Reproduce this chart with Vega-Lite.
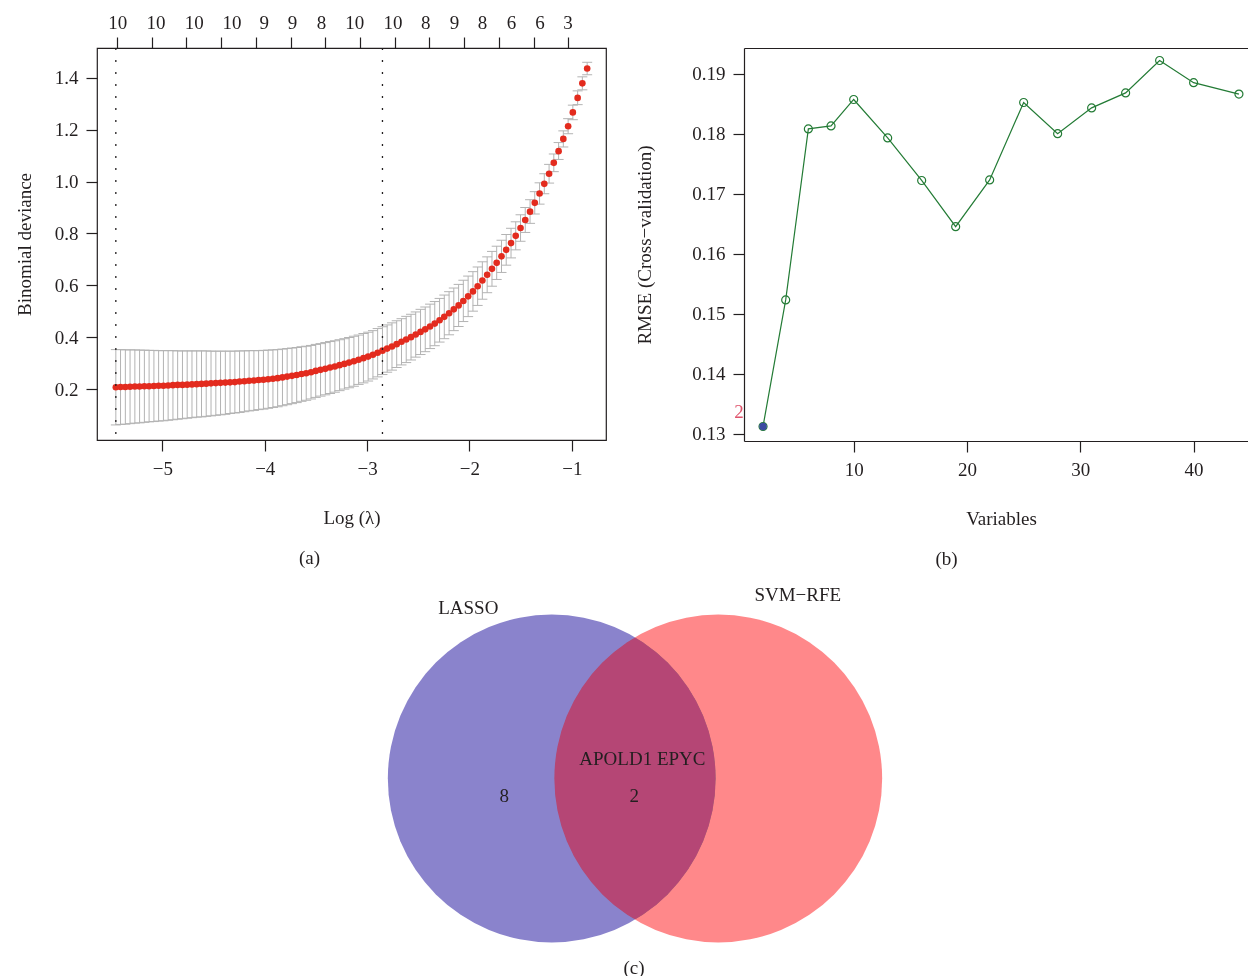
{
  "$schema": "https://vega.github.io/schema/vega-lite/v6.json",
  "background": "white",
  "padding": {"left": 14, "top": 12, "right": 0, "bottom": 0},
  "config": {
    "font": "Liberation Serif",
    "view": {"stroke": "#231F20", "strokeWidth": 1.2},
    "axis": {"grid": false, "domainColor": "#231F20", "domainWidth": 1.2, "tickColor": "#231F20", "tickWidth": 1.2, "tickSize": 11, "labelFont": "Liberation Serif", "labelFontSize": 19, "labelColor": "#231F20", "labelPadding": 8, "labelFlush": false, "labelOverlap": false, "labelBound": false, "titleFont": "Liberation Serif", "titleFontSize": 19, "titleFontWeight": "normal", "titleColor": "#231F20"},
    "title": {"font": "Liberation Serif", "fontSize": 19, "fontWeight": "normal", "color": "#231F20"}
  },
  "datasets": {
    "cvlasso": [
      {"loglambda": -0.850, "deviance": 1.435, "lower": 1.411, "upper": 1.459},
      {"loglambda": -0.897, "deviance": 1.378, "lower": 1.353, "upper": 1.403},
      {"loglambda": -0.943, "deviance": 1.322, "lower": 1.296, "upper": 1.349},
      {"loglambda": -0.990, "deviance": 1.266, "lower": 1.238, "upper": 1.294},
      {"loglambda": -1.036, "deviance": 1.213, "lower": 1.184, "upper": 1.242},
      {"loglambda": -1.083, "deviance": 1.164, "lower": 1.133, "upper": 1.195},
      {"loglambda": -1.129, "deviance": 1.117, "lower": 1.085, "upper": 1.150},
      {"loglambda": -1.176, "deviance": 1.072, "lower": 1.038, "upper": 1.106},
      {"loglambda": -1.222, "deviance": 1.030, "lower": 0.994, "upper": 1.066},
      {"loglambda": -1.269, "deviance": 0.991, "lower": 0.953, "upper": 1.030},
      {"loglambda": -1.315, "deviance": 0.954, "lower": 0.913, "upper": 0.995},
      {"loglambda": -1.362, "deviance": 0.918, "lower": 0.875, "upper": 0.961},
      {"loglambda": -1.408, "deviance": 0.884, "lower": 0.839, "upper": 0.930},
      {"loglambda": -1.455, "deviance": 0.852, "lower": 0.804, "upper": 0.900},
      {"loglambda": -1.501, "deviance": 0.821, "lower": 0.770, "upper": 0.872},
      {"loglambda": -1.548, "deviance": 0.791, "lower": 0.737, "upper": 0.845},
      {"loglambda": -1.594, "deviance": 0.763, "lower": 0.706, "upper": 0.820},
      {"loglambda": -1.641, "deviance": 0.737, "lower": 0.678, "upper": 0.796},
      {"loglambda": -1.687, "deviance": 0.712, "lower": 0.650, "upper": 0.774},
      {"loglambda": -1.734, "deviance": 0.687, "lower": 0.623, "upper": 0.751},
      {"loglambda": -1.780, "deviance": 0.664, "lower": 0.597, "upper": 0.731},
      {"loglambda": -1.827, "deviance": 0.641, "lower": 0.572, "upper": 0.710},
      {"loglambda": -1.874, "deviance": 0.619, "lower": 0.547, "upper": 0.691},
      {"loglambda": -1.920, "deviance": 0.597, "lower": 0.523, "upper": 0.671},
      {"loglambda": -1.966, "deviance": 0.577, "lower": 0.501, "upper": 0.653},
      {"loglambda": -2.013, "deviance": 0.558, "lower": 0.480, "upper": 0.636},
      {"loglambda": -2.060, "deviance": 0.540, "lower": 0.461, "upper": 0.620},
      {"loglambda": -2.106, "deviance": 0.523, "lower": 0.442, "upper": 0.604},
      {"loglambda": -2.153, "deviance": 0.508, "lower": 0.426, "upper": 0.590},
      {"loglambda": -2.199, "deviance": 0.493, "lower": 0.410, "upper": 0.576},
      {"loglambda": -2.246, "deviance": 0.479, "lower": 0.395, "upper": 0.563},
      {"loglambda": -2.292, "deviance": 0.466, "lower": 0.382, "upper": 0.550},
      {"loglambda": -2.339, "deviance": 0.453, "lower": 0.368, "upper": 0.538},
      {"loglambda": -2.385, "deviance": 0.442, "lower": 0.357, "upper": 0.528},
      {"loglambda": -2.432, "deviance": 0.431, "lower": 0.345, "upper": 0.517},
      {"loglambda": -2.478, "deviance": 0.421, "lower": 0.334, "upper": 0.508},
      {"loglambda": -2.525, "deviance": 0.411, "lower": 0.324, "upper": 0.498},
      {"loglambda": -2.571, "deviance": 0.401, "lower": 0.313, "upper": 0.489},
      {"loglambda": -2.618, "deviance": 0.392, "lower": 0.303, "upper": 0.481},
      {"loglambda": -2.664, "deviance": 0.383, "lower": 0.294, "upper": 0.472},
      {"loglambda": -2.711, "deviance": 0.374, "lower": 0.284, "upper": 0.464},
      {"loglambda": -2.757, "deviance": 0.365, "lower": 0.274, "upper": 0.456},
      {"loglambda": -2.804, "deviance": 0.357, "lower": 0.266, "upper": 0.448},
      {"loglambda": -2.850, "deviance": 0.349, "lower": 0.257, "upper": 0.441},
      {"loglambda": -2.897, "deviance": 0.341, "lower": 0.248, "upper": 0.434},
      {"loglambda": -2.943, "deviance": 0.333, "lower": 0.240, "upper": 0.426},
      {"loglambda": -2.990, "deviance": 0.326, "lower": 0.232, "upper": 0.420},
      {"loglambda": -3.036, "deviance": 0.320, "lower": 0.225, "upper": 0.415},
      {"loglambda": -3.083, "deviance": 0.314, "lower": 0.219, "upper": 0.409},
      {"loglambda": -3.129, "deviance": 0.308, "lower": 0.212, "upper": 0.404},
      {"loglambda": -3.176, "deviance": 0.303, "lower": 0.206, "upper": 0.400},
      {"loglambda": -3.222, "deviance": 0.298, "lower": 0.201, "upper": 0.395},
      {"loglambda": -3.269, "deviance": 0.293, "lower": 0.195, "upper": 0.391},
      {"loglambda": -3.315, "deviance": 0.288, "lower": 0.189, "upper": 0.387},
      {"loglambda": -3.362, "deviance": 0.284, "lower": 0.184, "upper": 0.384},
      {"loglambda": -3.408, "deviance": 0.279, "lower": 0.179, "upper": 0.380},
      {"loglambda": -3.455, "deviance": 0.275, "lower": 0.174, "upper": 0.376},
      {"loglambda": -3.502, "deviance": 0.271, "lower": 0.169, "upper": 0.373},
      {"loglambda": -3.548, "deviance": 0.266, "lower": 0.163, "upper": 0.369},
      {"loglambda": -3.595, "deviance": 0.262, "lower": 0.158, "upper": 0.366},
      {"loglambda": -3.641, "deviance": 0.259, "lower": 0.154, "upper": 0.364},
      {"loglambda": -3.688, "deviance": 0.255, "lower": 0.149, "upper": 0.361},
      {"loglambda": -3.734, "deviance": 0.252, "lower": 0.145, "upper": 0.359},
      {"loglambda": -3.781, "deviance": 0.249, "lower": 0.141, "upper": 0.357},
      {"loglambda": -3.827, "deviance": 0.246, "lower": 0.137, "upper": 0.355},
      {"loglambda": -3.874, "deviance": 0.243, "lower": 0.133, "upper": 0.353},
      {"loglambda": -3.920, "deviance": 0.241, "lower": 0.130, "upper": 0.352},
      {"loglambda": -3.967, "deviance": 0.239, "lower": 0.127, "upper": 0.351},
      {"loglambda": -4.013, "deviance": 0.237, "lower": 0.124, "upper": 0.350},
      {"loglambda": -4.060, "deviance": 0.236, "lower": 0.122, "upper": 0.349},
      {"loglambda": -4.106, "deviance": 0.234, "lower": 0.119, "upper": 0.349},
      {"loglambda": -4.153, "deviance": 0.233, "lower": 0.117, "upper": 0.349},
      {"loglambda": -4.199, "deviance": 0.231, "lower": 0.114, "upper": 0.348},
      {"loglambda": -4.246, "deviance": 0.230, "lower": 0.111, "upper": 0.348},
      {"loglambda": -4.292, "deviance": 0.228, "lower": 0.109, "upper": 0.347},
      {"loglambda": -4.339, "deviance": 0.227, "lower": 0.107, "upper": 0.347},
      {"loglambda": -4.385, "deviance": 0.226, "lower": 0.104, "upper": 0.347},
      {"loglambda": -4.432, "deviance": 0.225, "lower": 0.102, "upper": 0.347},
      {"loglambda": -4.478, "deviance": 0.224, "lower": 0.100, "upper": 0.347},
      {"loglambda": -4.525, "deviance": 0.223, "lower": 0.098, "upper": 0.347},
      {"loglambda": -4.572, "deviance": 0.222, "lower": 0.096, "upper": 0.348},
      {"loglambda": -4.618, "deviance": 0.221, "lower": 0.094, "upper": 0.348},
      {"loglambda": -4.665, "deviance": 0.220, "lower": 0.093, "upper": 0.348},
      {"loglambda": -4.711, "deviance": 0.219, "lower": 0.091, "upper": 0.348},
      {"loglambda": -4.758, "deviance": 0.218, "lower": 0.089, "upper": 0.348},
      {"loglambda": -4.804, "deviance": 0.217, "lower": 0.087, "upper": 0.348},
      {"loglambda": -4.851, "deviance": 0.217, "lower": 0.085, "upper": 0.348},
      {"loglambda": -4.897, "deviance": 0.216, "lower": 0.083, "upper": 0.349},
      {"loglambda": -4.944, "deviance": 0.215, "lower": 0.081, "upper": 0.349},
      {"loglambda": -4.990, "deviance": 0.214, "lower": 0.079, "upper": 0.349},
      {"loglambda": -5.037, "deviance": 0.214, "lower": 0.078, "upper": 0.349},
      {"loglambda": -5.083, "deviance": 0.213, "lower": 0.076, "upper": 0.350},
      {"loglambda": -5.130, "deviance": 0.212, "lower": 0.075, "upper": 0.350},
      {"loglambda": -5.176, "deviance": 0.212, "lower": 0.073, "upper": 0.351},
      {"loglambda": -5.223, "deviance": 0.211, "lower": 0.071, "upper": 0.351},
      {"loglambda": -5.269, "deviance": 0.211, "lower": 0.070, "upper": 0.352},
      {"loglambda": -5.316, "deviance": 0.210, "lower": 0.068, "upper": 0.352},
      {"loglambda": -5.362, "deviance": 0.209, "lower": 0.066, "upper": 0.352},
      {"loglambda": -5.409, "deviance": 0.209, "lower": 0.065, "upper": 0.353},
      {"loglambda": -5.455, "deviance": 0.208, "lower": 0.063, "upper": 0.353}
    ],
    "lambdas": [
      {"which": "lambda.min", "loglambda": -5.455},
      {"which": "lambda.1se", "loglambda": -2.850}
    ],
    "rfe": [
      {"variables": 2, "rmse": 0.1312},
      {"variables": 4, "rmse": 0.1523},
      {"variables": 6, "rmse": 0.1808},
      {"variables": 8, "rmse": 0.1813},
      {"variables": 10, "rmse": 0.1857},
      {"variables": 13, "rmse": 0.1793},
      {"variables": 16, "rmse": 0.1722},
      {"variables": 19, "rmse": 0.1645},
      {"variables": 22, "rmse": 0.1723},
      {"variables": 25, "rmse": 0.1852},
      {"variables": 28, "rmse": 0.1800},
      {"variables": 31, "rmse": 0.1843},
      {"variables": 34, "rmse": 0.1868},
      {"variables": 37, "rmse": 0.1922},
      {"variables": 40, "rmse": 0.1885},
      {"variables": 44, "rmse": 0.1866}
    ],
    "venn": [
      {"set": "LASSO", "cx": -0.508, "cy": 0},
      {"set": "SVM−RFE", "cx": 0.508, "cy": 0}
    ],
    "vennlabels": [
      {"label": "LASSO", "x": -1.017, "y": 1.042},
      {"label": "SVM−RFE", "x": 0.993, "y": 1.117},
      {"label": "APOLD1 EPYC", "x": 0.045, "y": 0.120},
      {"label": "8", "x": -0.797, "y": -0.104},
      {"label": "2", "x": -0.004, "y": -0.104}
    ]
  },
  "spacing": 7.5,
  "vconcat": [
    {
      "bounds": "flush",
      "spacing": 138,
      "hconcat": [
        {
          "width": 509,
          "height": 392,
          "title": {"text": "(a)", "orient": "bottom", "anchor": "middle", "offset": 22, "dx": -42},
          "resolve": {"axis": {"x": "independent", "y": "independent"}},
          "layer": [
            {
              "data": {"name": "cvlasso"},
              "mark": {"type": "rule", "color": "#B3B3B3", "strokeWidth": 1},
              "encoding": {
                "x": {"field": "loglambda", "type": "quantitative", "scale": {"domain": [-5.639, -0.666], "nice": false, "zero": false}, "axis": {"orient": "bottom", "title": "Log (λ)", "values": [-5, -4, -3, -2, -1], "titlePadding": 30, "domain": false}},
                "y": {"field": "lower", "type": "quantitative", "scale": {"domain": [0.005, 1.514], "nice": false, "zero": false}, "axis": {"orient": "left", "title": "Binomial deviance", "values": [0.2, 0.4, 0.6, 0.8, 1.0, 1.2, 1.4], "format": ".1f", "titlePadding": 20, "domain": false}},
                "y2": {"field": "upper"}
              }
            },
            {
              "data": {"name": "cvlasso"},
              "mark": {"type": "tick", "orient": "horizontal", "size": 10, "thickness": 1, "color": "#B3B3B3", "opacity": 1},
              "encoding": {
                "x": {"field": "loglambda", "type": "quantitative", "axis": null},
                "y": {"field": "lower", "type": "quantitative", "axis": null}
              }
            },
            {
              "data": {"name": "cvlasso"},
              "mark": {"type": "tick", "orient": "horizontal", "size": 10, "thickness": 1, "color": "#B3B3B3", "opacity": 1},
              "encoding": {
                "x": {"field": "loglambda", "type": "quantitative", "axis": null},
                "y": {"field": "upper", "type": "quantitative", "axis": null}
              }
            },
            {
              "data": {"name": "cvlasso"},
              "mark": {"type": "circle", "size": 44, "color": "#E32B1E", "opacity": 1},
              "encoding": {
                "x": {"field": "loglambda", "type": "quantitative", "axis": {"orient": "top", "title": null, "domain": false, "ticks": false, "tickSize": 0, "labelPadding": 16, "values": [-5.442, -5.068, -4.694, -4.326, -4.011, -3.733, -3.45, -3.125, -2.751, -2.432, -2.151, -1.878, -1.595, -1.315, -1.042], "labelExpr": "['10','10','10','10','9','9','8','10','10','8','9','8','6','6','3'][indexof([-5.442, -5.068, -4.694, -4.326, -4.011, -3.733, -3.45, -3.125, -2.751, -2.432, -2.151, -1.878, -1.595, -1.315, -1.042], datum.value)]"}},
                "y": {"field": "deviance", "type": "quantitative", "axis": null}
              }
            },
            {
              "data": {"name": "lambdas"},
              "mark": {"type": "rule", "strokeDash": [2, 10], "strokeWidth": 1.3, "color": "#231F20"},
              "encoding": {
                "x": {"field": "loglambda", "type": "quantitative", "axis": {"orient": "top", "title": null, "domain": false, "labels": false, "values": [-5.442, -5.1, -4.766, -4.427, -4.085, -3.747, -3.408, -3.073, -2.731, -2.393, -2.051, -1.709, -1.374, -1.038]}}
              }
            }
          ]
        },
        {
          "width": 504,
          "height": 393,
          "view": {"stroke": null},
          "title": {"text": "(b)", "orient": "bottom", "anchor": "middle", "offset": 22, "dx": -49.5},
          "data": {"name": "rfe"},
          "resolve": {"axis": {"x": "independent", "y": "independent"}},
          "layer": [
            {
              "mark": {"type": "line", "color": "#237B35", "strokeWidth": 1.2},
              "encoding": {
                "x": {"field": "variables", "type": "quantitative", "scale": {"domain": [0.32, 44.8], "nice": false, "zero": false}, "axis": {"orient": "bottom", "title": "Variables", "values": [10, 20, 30, 40], "titlePadding": 30, "titleX": 257}},
                "y": {"field": "rmse", "type": "quantitative", "scale": {"domain": [0.12878, 0.19428], "nice": false, "zero": false}, "axis": {"orient": "left", "title": "RMSE (Cross−validation)", "values": [0.13, 0.14, 0.15, 0.16, 0.17, 0.18, 0.19], "format": ".2f", "titlePadding": 37}}
              }
            },
            {
              "mark": {"type": "point", "shape": "circle", "filled": false, "size": 64, "strokeWidth": 1.2, "color": "#237B35", "opacity": 1},
              "encoding": {
                "x": {"field": "variables", "type": "quantitative", "axis": {"orient": "top", "title": null, "labels": false, "ticks": false, "domain": true}},
                "y": {"field": "rmse", "type": "quantitative", "axis": null}
              }
            },
            {
              "transform": [{"filter": "datum.variables == 2"}],
              "mark": {"type": "circle", "size": 56, "color": "#3B4BA0", "opacity": 1},
              "encoding": {
                "x": {"field": "variables", "type": "quantitative", "axis": null},
                "y": {"field": "rmse", "type": "quantitative", "axis": null}
              }
            },
            {
              "transform": [{"filter": "datum.variables == 2"}],
              "mark": {"type": "text", "color": "#DF536B", "dx": -24, "dy": -14, "fontSize": 19},
              "encoding": {
                "x": {"field": "variables", "type": "quantitative", "axis": null},
                "y": {"field": "rmse", "type": "quantitative", "axis": null},
                "text": {"field": "variables", "type": "quantitative"}
              }
            }
          ]
        }
      ]
    },
    {
      "width": 1074,
      "height": 376,
      "view": {"stroke": null},
      "title": {"text": "(c)", "orient": "bottom", "anchor": "middle", "offset": 6},
      "layer": [
        {
          "data": {"name": "venn"},
          "transform": [{"filter": "datum.set == 'LASSO'"}],
          "mark": {"type": "point", "shape": "circle", "filled": true, "size": 107453, "color": "#8A83CC", "opacity": 1, "strokeWidth": 0},
          "encoding": {
            "x": {"field": "cx", "type": "quantitative", "scale": {"domain": [-3.2825, 3.2703], "nice": false, "zero": false}, "axis": null},
            "y": {"field": "cy", "type": "quantitative", "scale": {"domain": [-1.0616, 1.2325], "nice": false, "zero": false}, "axis": null}
          }
        },
        {
          "data": {"name": "venn"},
          "transform": [{"filter": "datum.set != 'LASSO'"}],
          "mark": {"type": "point", "shape": "circle", "filled": true, "size": 107453, "color": "#FF888A", "opacity": 1, "strokeWidth": 0, "blend": "multiply"},
          "encoding": {
            "x": {"field": "cx", "type": "quantitative", "axis": null},
            "y": {"field": "cy", "type": "quantitative", "axis": null}
          }
        },
        {
          "data": {"name": "venn"},
          "transform": [{"filter": "datum.set != 'LASSO'"}],
          "mark": {"type": "point", "shape": "circle", "filled": true, "size": 107453, "color": "#B53A75", "opacity": 1, "strokeWidth": 0, "blend": "lighten"},
          "encoding": {
            "x": {"field": "cx", "type": "quantitative", "axis": null},
            "y": {"field": "cy", "type": "quantitative", "axis": null}
          }
        },
        {
          "data": {"name": "vennlabels"},
          "mark": {"type": "text", "fontSize": 19, "color": "#231F20", "baseline": "middle", "align": "center"},
          "encoding": {
            "x": {"field": "x", "type": "quantitative", "axis": null},
            "y": {"field": "y", "type": "quantitative", "axis": null},
            "text": {"field": "label", "type": "nominal"}
          }
        }
      ]
    }
  ]
}
